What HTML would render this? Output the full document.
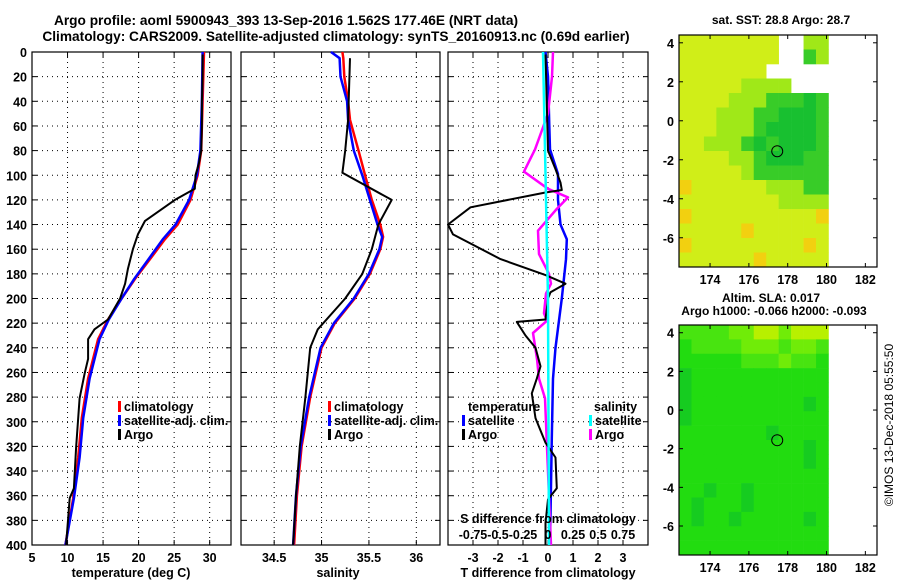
<!DOCTYPE html>
<html><head><meta charset="utf-8"><style>
body{margin:0;background:#fff}
svg{display:block;font-family:"Liberation Sans",sans-serif;font-weight:bold}
</style></head><body>
<svg id="s" width="900" height="580" viewBox="0 0 900 580">
<text x="286" y="25" font-size="13.7" text-anchor="middle">Argo profile: aoml 5900943_393 13-Sep-2016 1.562S 177.46E (NRT data)</text>
<text x="336" y="41" font-size="13.7" text-anchor="middle">Climatology: CARS2009. Satellite-adjusted climatology: synTS_20160913.nc (0.69d earlier)</text>
<g id="g"></g>
</svg>
<script>
// ---- data ----
const depthTicks=[0,20,40,60,80,100,120,140,160,180,200,220,240,260,280,300,320,340,360,380,400];
const tempTicks=[5,10,15,20,25,30];
const salTicks=[34.5,35,35.5,36];
const dtTicks=[-3,-2,-1,0,1,2,3];
const dsTicks=[-0.75,-0.5,-0.25,0,0.25,0.5,0.75];
const dsTickLabels=["-0.75","-0.5","-0.25","0","0.25","0.5","0.75"];
const tClimD=[0,40,80,100,120,140,152,168,184,200,217,233,265,297,329,362,400];
const tClimV=[29.2,29.0,28.8,28.3,27.3,25.5,23.7,21.6,19.5,17.6,15.7,14.3,12.9,12.0,11.5,10.8,9.7];
const tSatV=[29.0,28.9,28.7,28.2,27.1,25.2,23.4,21.4,19.4,17.6,15.8,14.5,13.1,12.2,11.7,10.9,9.7];
const tArgoD=[2,20,40,60,80,90,100,111,120,137,148,160,176,188,200,217,225,233,249,261,281,321,354,362,400];
const tArgoV=[29.0,29.0,28.9,28.9,28.8,28.5,28.0,27.9,25.1,20.9,19.9,19.2,18.5,18.1,17.4,15.7,13.8,12.9,12.9,12.4,11.7,11.2,10.9,10.3,9.8];
const sClimD=[0,5,20,40,55,80,100,120,140,150,160,180,200,220,240,280,320,360,400];
const sClimV=[35.22,35.23,35.24,35.28,35.30,35.39,35.46,35.53,35.62,35.65,35.62,35.51,35.35,35.14,35.0,34.88,34.79,34.74,34.71];
const sSatV=[35.10,35.19,35.20,35.27,35.28,35.34,35.43,35.51,35.59,35.64,35.61,35.50,35.34,35.13,34.99,34.87,34.78,34.73,34.70];
const sArgoD=[5,55,80,98,120,140,160,180,200,225,240,280,320,360,400];
const sArgoV=[35.30,35.28,35.25,35.22,35.74,35.60,35.53,35.43,35.25,34.96,34.88,34.83,34.77,34.73,34.70];
const dtArgoD=[2,80,95,106,112,114,126,140,148,168,181,188,195,200,217,219,230,240,255,265,277,297,317,329,354,363,382,400];
const dtArgoV=[-0.1,0,0.3,0.5,0.55,-0.1,-3.1,-4.0,-3.8,-1.9,-0.1,0.7,0.1,0,-0.1,-1.25,-0.9,-0.5,-0.3,-0.45,-0.65,-0.5,-0.1,0.3,0.35,0,-0.1,-0.1];
const dtSatD=[0,20,60,79,99,120,140,152,168,200,240,265,313,400];
const dtSatV=[-0.1,0,0.05,0.08,0.4,0.4,0.5,0.75,0.72,0.55,0.3,0.2,0.15,0.08];
const dsSatD=[0,79,200,400];
const dsSatV=[-0.05,-0.03,0,0.01];
const dsArgoD=[0,20,50,79,97,111,118,128,145,164,180,188,196,212,218,228,249,265,281,400];
const dsArgoV=[0.05,0.04,0,-0.13,-0.24,0,0.2,0.08,-0.1,-0.09,0.01,0.03,-0.02,-0.04,-0.01,-0.15,-0.11,-0.09,-0.03,0.03];
const lonTicks=[174,176,178,180,182];
const latTicks=[4,2,0,-2,-4,-6];
// map grids: rows from lat 4.4 down to -7.5, cols from lon 172.4 to 180.1
const sstRows=["yyyyyyyy..ll","yyyyyyyy..gl","yyyyyyy.....","yyyyyllll...","yyyylllgggGg","yyylllggGGGg","yyylllgGGGGg","yylllgGgGGGg","yyyyllgGGGgg","yyyyylgggggg","oyyyyyylllgg","yyyyyyyyllll","oyyyyyyyyyyo","yyyyyoyyyyyy","oyyyyyyyyyoy","yyyyyyoyyyyy"];
const slaRows=["llllmmyymyyy","gllllmmmlmml","ggggglllmllg","dggggggggggg","dggggggggggg","dgggggggggdg","dggggggggggg","gggggggdgggg","ggggggggggdg","ggggggggggdg","gggggggggggg","ggdggdgggggg","gdgggdgggggg","gdggdgggggdg","gggggggggggg","gggggggggggg"];
const sstColors={o:"#f2d010",y:"#d0ee18",l:"#a0e818",g:"#38cc28",G:"#18c030"};
const slaColors={y:"#b8f000",m:"#70ec08",l:"#48e410",g:"#22dc10",d:"#16cc20"};
const argoLon=177.46, argoLat=-1.56;

// ---- drawing ----
const NS="http://www.w3.org/2000/svg", G=document.getElementById('g');
function el(t,a,p){const e=document.createElementNS(NS,t);for(const k in a)e.setAttribute(k,a[k]);(p||G).appendChild(e);return e;}
const top0=52,bot0=545;
const yD=d=>top0+(d/400)*(bot0-top0);
function lin(d0,d1,r0,r1){return v=>r0+(v-d0)/(d1-d0)*(r1-r0);}
const panels=[{x0:32,x1:231,d:[5,33],ticks:tempTicks,name:"temperature"},{x0:241,x1:440,d:[34.15,36.25],ticks:salTicks,name:"salinity"},{x0:448,x1:648,d:[-4,4],ticks:dtTicks,name:"difference"}];
panels.forEach((p,i)=>{
  p.sx=lin(p.d[0],p.d[1],p.x0,p.x1);
  const g=el('g',{});
  
  
  p.ticks.forEach(t=>{const x=p.sx(t);
    const l=el('line',{x1:x,x2:x,y1:top0,y2:bot0,stroke:'#000','stroke-width':1,'stroke-dasharray':'1 4'},g);
    
    el('line',{x1:x,x2:x,y1:bot0,y2:bot0-5,stroke:'#000'},g);el('line',{x1:x,x2:x,y1:top0,y2:top0+5,stroke:'#000'},g);
    const tx=el('text',{x:x,y:562,'font-size':12.5,'text-anchor':'middle'},g);tx.textContent=String(t);
    
  });
  depthTicks.forEach(d=>{const y=yD(d);
    if(d>0&&d<400){const l=el('line',{x1:p.x0,x2:p.x1,y1:y,y2:y,stroke:'#000','stroke-dasharray':'1 4'},g);
      }
    el('line',{x1:p.x0,x2:p.x0+5,y1:y,y2:y,stroke:'#000'},g);el('line',{x1:p.x1,x2:p.x1-5,y1:y,y2:y,stroke:'#000'},g);
    if(i==0){const tx=el('text',{x:27,y:y+5,'font-size':12.5,'text-anchor':'end'},g);tx.textContent=String(d);
      }
  });
  const r=el('rect',{x:p.x0,y:top0,width:p.x1-p.x0,height:bot0-top0,fill:'none',stroke:'#000','stroke-width':1.2},g);
  
});
function line(D,V,sx,color,w,name){
  const pts=D.map((d,i)=>sx(V[i]).toFixed(1)+','+yD(d).toFixed(1)).join(' ');
  const e=el('polyline',{points:pts,fill:'none',stroke:color,'stroke-width':w,'stroke-linejoin':'round'});
  
  
}
const P=panels;
line(tClimD,tClimV,P[0].sx,'#f00',2.5,'temp-climatology-line');
line(tClimD,tSatV,P[0].sx,'#00f',2.5,'temp-satellite-line');
line(tArgoD,tArgoV,P[0].sx,'#000',2,'temp-argo-line');
line(sClimD,sClimV,P[1].sx,'#f00',2.5,'sal-climatology-line');
line(sClimD,sSatV,P[1].sx,'#00f',2.5,'sal-satellite-line');
line(sArgoD,sArgoV,P[1].sx,'#000',2,'sal-argo-line');
const sxS=lin(-1,1,448,648);
line(dtSatD,dtSatV,P[2].sx,'#00f',2.5,'dt-satellite-line');
line(dsArgoD,dsArgoV,sxS,'#f0f',2.5,'ds-argo-line');
line(dtArgoD,dtArgoV,P[2].sx,'#000',2,'dt-argo-line');
line(dsSatD,dsSatV,sxS,'#0ff',2.5,'ds-satellite-line');
dsTicks.forEach((t,i)=>{const tx=el('text',{x:sxS(t),y:539,'font-size':12.5,'text-anchor':'middle'});tx.textContent=dsTickLabels[i];
  });
function txt(x,y,s,name,a,fs){const t=el('text',{x:x,y:y,'font-size':fs||12.5,'text-anchor':a||'start'});t.textContent=s;
  return t;}
txt(548,523,'S difference from climatology','s-diff-axis-title','middle');
txt(131,577,'temperature (deg C)','temp-axis-title','middle');
txt(338,577,'salinity','sal-axis-title','middle');
txt(548,577,'T difference from climatology','t-diff-axis-title','middle');
function leg(x,y,c,s,name){const r=el('rect',{x:x,y:y-10,width:3,height:11,fill:c});
  txt(x+6,y,s,name);}
[[118,'climatology-legend'],[328,'climatology-legend-2']].forEach(([x,n])=>{
  leg(x,411,'#f00','climatology',n);leg(x,425,'#00f','satellite-adj. clim.','satellite-legend');leg(x,439,'#000','Argo','argo-legend');});
txt(468,411,'temperature','temp-legend-title');txt(594,411,'salinity','sal-legend-title');
leg(462,425,'#00f','satellite','dt-satellite-legend');leg(462,439,'#000','Argo','dt-argo-legend');
leg(589,425,'#0ff','satellite','ds-satellite-legend');leg(589,439,'#f0f','Argo','ds-argo-legend');

// maps
function map(top,bot,rows,colors,name){
  const L=679,R=877,lon=lin(172.4,182.6,L,R),lat=lin(4.4,-7.5,top,bot);
  const g=el('g',{});
  const nr=rows.length,nc=rows[0].length,cw=(180.1-172.4)/nc,rh=11.9/nr;
  rows.forEach((row,ri)=>{[...row].forEach((ch,ci)=>{if(!colors[ch])return;
    const x0=lon(172.4+ci*cw),x1=lon(172.4+(ci+1)*cw),y0=lat(4.4-ri*rh),y1=lat(4.4-(ri+1)*rh);
    const c=el('rect',{x:x0,y:y0,width:x1-x0+0.3,height:y1-y0+0.3,fill:colors[ch]},g);
    });});
  const m=el('circle',{cx:lon(argoLon),cy:lat(argoLat),r:5.5,fill:'none',stroke:'#000','stroke-width':1},g);
  
  el('rect',{x:L,y:top,width:R-L,height:bot-top,fill:'none',stroke:'#000','stroke-width':1.2},g);
  lonTicks.forEach(t=>{const x=lon(t);el('line',{x1:x,x2:x,y1:bot,y2:bot-4,stroke:'#000'},g);el('line',{x1:x,x2:x,y1:top,y2:top+4,stroke:'#000'},g);
    const tx=el('text',{x:x,y:bot+17,'font-size':12.5,'text-anchor':'middle'},g);tx.textContent=String(t);
    });
  latTicks.forEach(t=>{const y=lat(t);el('line',{x1:L,x2:L+4,y1:y,y2:y,stroke:'#000'},g);el('line',{x1:R,x2:R-4,y1:y,y2:y,stroke:'#000'},g);
    const tx=el('text',{x:L-5,y:y+5,'font-size':12.5,'text-anchor':'end'},g);tx.textContent=String(t);
    });
}
map(35,267,sstRows,sstColors,'sst-map');
map(325,555,slaRows,slaColors,'sla-map');
txt(781,24,'sat. SST: 28.8 Argo: 28.7','sst-map-title','middle',12);
txt(771,302,'Altim. SLA: 0.017','sla-map-title','middle',12);
txt(774,315,'Argo h1000: -0.066 h2000: -0.093','sla-map-subtitle','middle',12);
const c=txt(0,0,'©IMOS 13-Dec-2018 05:55:50','copyright-label','middle',12);
c.setAttribute('font-weight','normal');c.setAttribute('transform','translate(893,425) rotate(-90)');
</script>
</body></html>
